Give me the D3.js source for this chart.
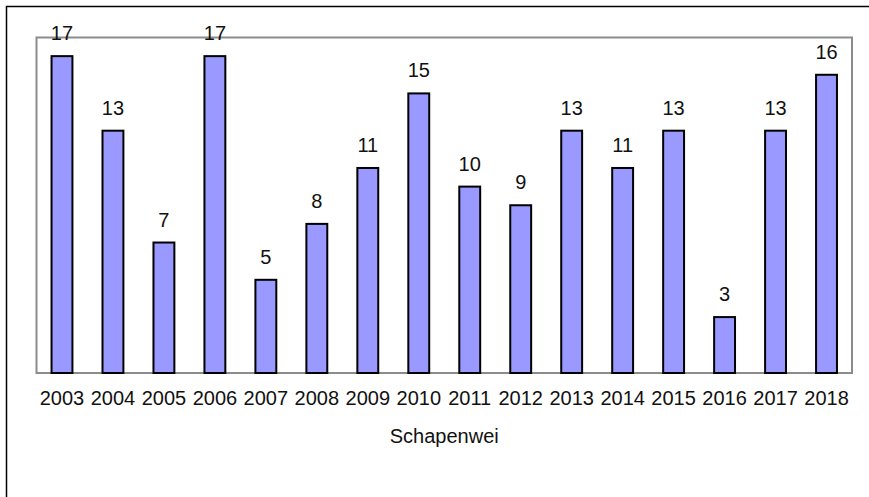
<!DOCTYPE html>
<head>
  <meta charset="utf-8">
  <script src="https://d3js.org/d3.v7.min.js"></script>
  <style>
    body { margin:0; background:white; }
    svg { display:block; font-family: "Liberation Sans", Arial, sans-serif; }
    .bar { fill:#9999ff; stroke:#000; stroke-width:2; }
    .lbl { font-size:20px; fill:#111; text-anchor:middle; }
  </style>
</head>
<body>
  <script>
    var years = ["2003","2004","2005","2006","2007","2008","2009","2010",
                 "2011","2012","2013","2014","2015","2016","2017","2018"];
    var counts = [17, 13, 7, 17, 5, 8, 11, 15, 10, 9, 13, 11, 13, 3, 13, 16];
    var axisTitle = "Schapenwei";

    var width = 869, height = 497;
    var plot = {left: 36.5, top: 37.5, right: 852, bottom: 373};

    var svg = d3.select("body").append("svg")
        .attr("width", width)
        .attr("height", height);

    // outer frame, runs off the right and bottom edges
    svg.append("rect")
        .attr("x", 6.5).attr("y", 6.5)
        .attr("width", 1000).attr("height", 1000)
        .attr("fill", "none").attr("stroke", "#000").attr("stroke-width", 1.5);

    var x = d3.scaleBand()
        .domain(years)
        .range([plot.left, plot.right])
        .paddingInner(0.59)
        .paddingOuter(0.295);

    var y = d3.scaleLinear()
        .domain([0, 18])
        .range([plot.bottom, plot.top]);

    svg.append("rect")
        .attr("x", plot.left).attr("y", plot.top)
        .attr("width", plot.right - plot.left)
        .attr("height", plot.bottom - plot.top)
        .attr("fill", "white").attr("stroke", "#8c8c8c").attr("stroke-width", 2);

    svg.selectAll("rect.bar")
      .data(counts)
      .enter().append("rect")
        .attr("class", "bar")
        .attr("x", function(d, i) { return x(years[i]); })
        .attr("y", function(d) { return y(d); })
        .attr("width", x.bandwidth())
        .attr("height", function(d) { return y(0) - y(d); });

    svg.selectAll("text.val")
      .data(counts)
      .enter().append("text")
        .attr("class", "lbl val")
        .attr("x", function(d, i) { return x(years[i]) + x.bandwidth() / 2; })
        .attr("y", function(d) { return y(d) - 16; })
        .text(function(d) { return d; });

    var xAxis = d3.axisBottom(x).tickSize(0).tickPadding(0);
    var gx = svg.append("g")
        .attr("transform", "translate(0," + plot.bottom + ")")
        .call(xAxis);
    gx.select(".domain").remove();
    gx.selectAll("text")
        .attr("class", "lbl")
        .attr("dy", null)
        .attr("y", 32)
        .attr("fill", "#111");

    svg.append("text")
        .attr("class", "lbl")
        .attr("x", (plot.left + plot.right) / 2)
        .attr("y", 443)
        .text(axisTitle);
  </script>
</body>
